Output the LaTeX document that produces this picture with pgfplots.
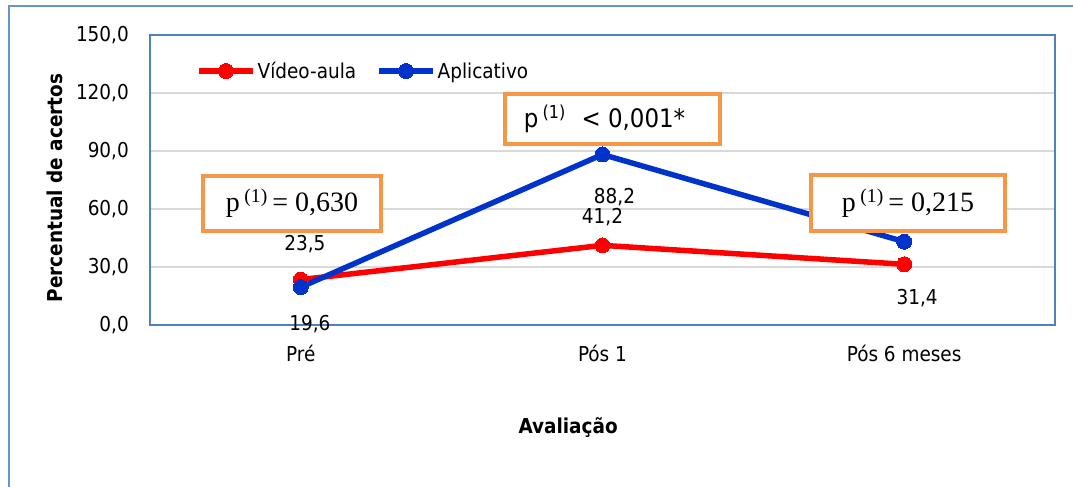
\documentclass[border=0pt]{standalone}
\usepackage{fontspec}
\setmainfont{DejaVu Sans Condensed}
\newfontfamily\tnr{Liberation Serif}
\usepackage{pgfplots}
\pgfplotsset{compat=1.18}
\definecolor{serred}{RGB}{255,0,0}
\definecolor{serblue}{RGB}{0,51,204}
\definecolor{boxor}{RGB}{247,150,70}
\definecolor{frameblue}{RGB}{79,129,189}
\definecolor{gridgray}{RGB}{217,217,217}
\newcommand{\lblfont}{\fontsize{20.5bp}{24bp}\selectfont}
\begin{document}
\begin{tikzpicture}
\useasboundingbox (0,0) rectangle (1073bp,-487bp);
\draw[frameblue!85, line width=2bp] (9bp,-520bp) -- (9bp,-6bp) -- (1100bp,-6bp);
\begin{axis}[
  at={(150bp,-325bp)}, anchor=south west,
  width=905bp, height=290bp, scale only axis,
  xmin=-0.5, xmax=2.5, ymin=0, ymax=150,
  xtick={0,1,2}, xticklabels={Pré,Pós 1,Pós 6 meses},
  ytick={0,30,...,150},
  major tick length=0pt,
  ymajorgrids, grid style={gridgray, line width=1.5bp},
  axis line style={frameblue, line width=2bp},
  x axis line style={frameblue!60, line width=2.5bp},
  tick label style={font=\lblfont, text=black},
  yticklabel style={anchor=east, inner sep=0pt, xshift=-21bp,
    /pgf/number format/.cd, fixed, fixed zerofill, precision=1, use comma, assume math mode=true},
  xticklabel style={anchor=north, inner sep=0pt, yshift=-20bp},
  ylabel={Percentual de acertos},
  ylabel style={at={(rel axis cs:-0.105,0.4724)}, anchor=center, font=\lblfont\bfseries},
  xlabel={Avaliação},
  xlabel style={at={(rel axis cs:0.462,-0.355)}, anchor=center, font=\lblfont\bfseries},
  legend columns=2,
  legend cell align=left,
  legend style={at={(rel axis cs:0.0508,0.876)}, anchor=west, draw=none, fill=none,
    font=\lblfont, inner sep=0pt,
    nodes={inner sep=2bp},
    /tikz/every even column/.append style={column sep=18bp}},
  legend image code/.code={\draw[mark repeat=2,mark phase=2,#1] plot coordinates {(0bp,0bp)(27bp,0bp)(54bp,0bp)};},
]
\addplot[serred, line width=5.5bp, mark=*, mark size=7.5bp, mark options={solid, fill=serred, draw=serred, line width=0pt}]
  coordinates {(0,23.5) (1,41.2) (2,31.4)};
\addlegendentry{Vídeo-aula}
\addplot[serblue, line width=5.5bp, mark=*, mark size=7.5bp, mark options={solid, fill=serblue, draw=serblue, line width=0pt}]
  coordinates {(0,19.6) (1,88.2) (2,43.1)};
\addlegendentry{Aplicativo}
\coordinate (r0) at (axis cs:0,23.5);
\coordinate (r1) at (axis cs:1,41.2);
\coordinate (r2) at (axis cs:2,31.4);
\coordinate (b0) at (axis cs:0,19.6);
\coordinate (b1) at (axis cs:1,88.2);
\end{axis}
\node[font=\lblfont, xshift=4bp, yshift=35bp] at (r0) {23,5};
\node[font=\lblfont, xshift=0bp, yshift=28bp] at (r1) {41,2};
\node[font=\lblfont, xshift=13bp, yshift=-34bp] at (r2) {31,4};
\node[font=\lblfont, xshift=9bp, yshift=-37bp] at (b0) {19,6};
\node[font=\lblfont, xshift=12bp, yshift=-43bp] at (b1) {88,2};
\node[draw=boxor, line width=4bp, fill=white, minimum width=178bp, minimum height=55bp, inner sep=0pt]
  at (292bp,-203.5bp) {\tnr\fontsize{28bp}{32bp}\selectfont p\,\textsuperscript{(1)}\,= 0,630};
\node[draw=boxor, line width=4bp, fill=white, minimum width=215bp, minimum height=50bp, inner sep=0pt]
  at (612.5bp,-119bp) {\hspace*{-16bp}\fontsize{25.5bp}{30bp}\selectfont p\,\textsuperscript{(1)}\,\, < 0,001*};
\node[draw=boxor, line width=4bp, fill=white, minimum width=194bp, minimum height=56bp, inner sep=0pt]
  at (908bp,-203bp) {\tnr\fontsize{28bp}{32bp}\selectfont p\,\textsuperscript{(1)}\,= 0,215};
\end{tikzpicture}
\end{document}
